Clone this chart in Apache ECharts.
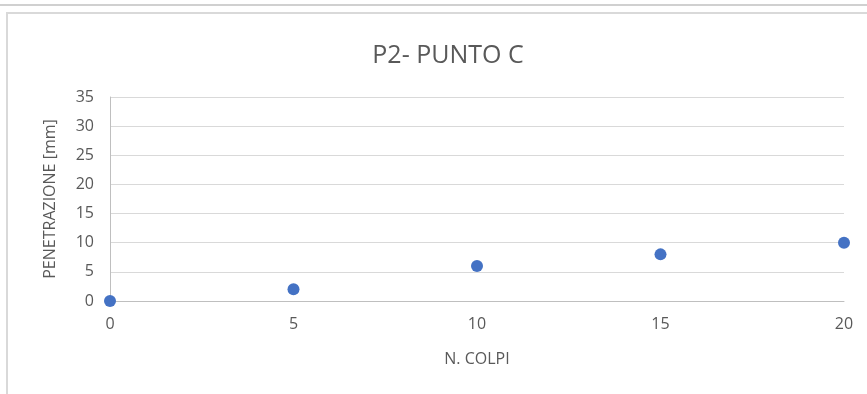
<!DOCTYPE html>
<html><head><meta charset="utf-8">
<script src="https://cdn.jsdelivr.net/npm/echarts@6/dist/echarts.min.js"></script>
<style>html,body{margin:0;padding:0;background:#fff}#c{width:867px;height:394px}</style>
</head><body><div id="c"></div>
<script>
const title = "P2- PUNTO C";
const xName = "N. COLPI";
const yName = "PENETRAZIONE [mm]";
const colpi = [0, 5, 10, 15, 20];
const penetrazione = [0, 2, 6, 8, 10];
const yTicks = [0, 35, 5];
const xTicks = [0, 20, 5];

const font = "'Open Sans', 'Liberation Sans', sans-serif";
const grey = "#595959";
const chart = echarts.init(document.getElementById('c'));
chart.setOption({
  animation: false,
  title: {text: title, left: 443, top: 38, textAlign: 'center',
    textStyle: {fontFamily: font, fontSize: 25, fontWeight: 'normal', color: grey}},
  graphic: [
    {type: 'line', shape: {x1: 0, y1: 5, x2: 867, y2: 5}, style: {stroke: '#d0d0d0', lineWidth: 2}},
    {type: 'line', shape: {x1: 6, y1: 13, x2: 867, y2: 13}, style: {stroke: '#d9d9d9', lineWidth: 2}},
    {type: 'line', shape: {x1: 7, y1: 13, x2: 7, y2: 394}, style: {stroke: '#d9d9d9', lineWidth: 2}}
  ],
  grid: {left: 110, right: 23, top: 97, bottom: 93},
  xAxis: {type: 'value', min: xTicks[0], max: xTicks[1], interval: xTicks[2],
    name: xName, nameLocation: 'middle', nameGap: 50,
    nameTextStyle: {fontFamily: font, fontSize: 16, color: grey},
    axisLine: {show: true, lineStyle: {color: '#bfbfbf'}},
    axisTick: {show: false}, splitLine: {show: false},
    axisLabel: {fontFamily: font, fontSize: 16, color: grey, margin: 15}},
  yAxis: {type: 'value', min: yTicks[0], max: yTicks[1], interval: yTicks[2],
    name: yName, nameLocation: 'middle', nameGap: 52,
    nameTextStyle: {fontFamily: font, fontSize: 16, color: grey},
    axisLine: {show: true, lineStyle: {color: '#bfbfbf'}},
    axisTick: {show: false},
    splitLine: {lineStyle: {color: '#d9d9d9'}},
    axisLabel: {fontFamily: font, fontSize: 16, color: grey, margin: 16}},
  series: [{type: 'scatter', symbolSize: 12,
    itemStyle: {color: '#4472C4', opacity: 1},
    data: colpi.map((x, i) => [x, penetrazione[i]])}]
});
</script></body></html>
